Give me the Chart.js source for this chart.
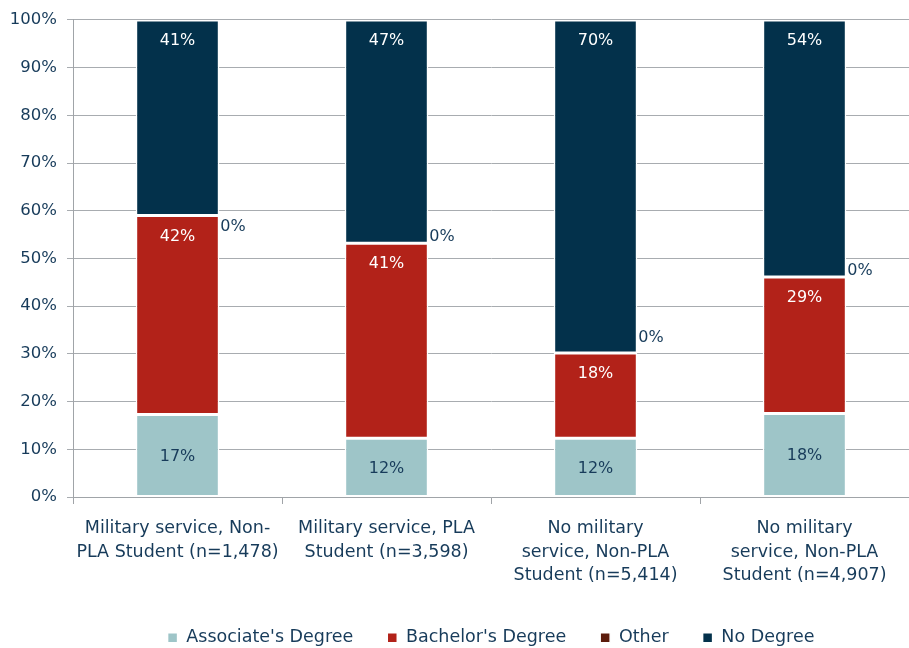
<!DOCTYPE html>
<html>
<head>
<meta charset="utf-8">
<script src="https://cdn.jsdelivr.net/npm/chart.js@4"></script>
<style>
  html, body { margin: 0; padding: 0; background: #fff; }
  #wrap { width: 909px; height: 648px; }
</style>
</head>
<body>
<div id="wrap"><canvas id="degreeChart"></canvas></div>
<script>
const categories = [
    ['Military service, Non-', 'PLA Student (n=1,478)'],
    ['Military service, PLA', 'Student (n=3,598)'],
    ['No military', 'service, Non-PLA', 'Student (n=5,414)'],
    ['No military', 'service, Non-PLA', 'Student (n=4,907)']
];
const associate = [17.3, 12.3, 12.3, 17.5];
const bachelor = [41.7, 40.9, 17.9, 28.6];
const other = [0, 0, 0, 0];
const noDegree = [41.0, 46.8, 69.8, 53.9];
const yTicks = [0, 10, 20, 30, 40, 50, 60, 70, 80, 90, 100];

// vertical nudge of the "Other" 0% labels, as Excel placed them
const otherLabelShift = [11, -6, -15, -6];

const textColor = '#173b5a';
const fontFamily = '"DejaVu Sans", Verdana, sans-serif';

// labels: associate centered, bachelor/no degree at inside end, other outside right
const labelPlugin = {
    id: 'segLabels',
    afterDatasetsDraw(chart) {
        const c = chart.ctx;
        c.save();
        c.font = '16px ' + fontFamily;
        chart.data.datasets.forEach((ds, di) => {
            const meta = chart.getDatasetMeta(di);
            if (meta.hidden) return;
            meta.data.forEach((bar, i) => {
                const txt = Math.round(ds.data[i]) + '%';
                const top = Math.min(bar.y, bar.base);
                const bottom = Math.max(bar.y, bar.base);
                c.fillStyle = ds.labelColor;
                c.textBaseline = 'middle';
                if (ds.labelMode === 'center') {
                    c.textAlign = 'center';
                    c.fillText(txt, bar.x, (top + bottom) / 2 + 1);
                } else if (ds.labelMode === 'end') {
                    c.textAlign = 'center';
                    c.fillText(txt, bar.x, top + 21);
                } else {
                    c.textAlign = 'left';
                    c.fillText(txt, bar.x + bar.width / 2 + 1, top + otherLabelShift[i]);
                }
            });
        });
        c.restore();
    }
};

// keep the legend row low while keeping wide gaps between items
const legendFit = {
    id: 'legendFit',
    beforeInit(chart) {
        const lg = chart.legend;
        if (!lg) return;
        const orig = lg.fit.bind(lg);
        lg.fit = function () {
            orig();
            this.height = 53;
        };
    }
};

const ctx = document.getElementById('degreeChart').getContext('2d');
new Chart(ctx, {
    type: 'bar',
    data: {
        labels: categories,
        datasets: [
            { label: "Associate's Degree", data: associate, backgroundColor: '#9ec5c8', labelMode: 'center', labelColor: textColor },
            { label: "Bachelor's Degree", data: bachelor, backgroundColor: '#b22219', labelMode: 'end', labelColor: '#ffffff' },
            { label: 'Other', data: other, backgroundColor: '#5c1c0c', labelMode: 'outside', labelColor: textColor },
            { label: 'No Degree', data: noDegree, backgroundColor: '#03314b', labelMode: 'end', labelColor: '#ffffff' }
        ].map(d => Object.assign(d, {
            borderColor: '#ffffff',
            borderWidth: 1.5,
            borderSkipped: false,
            categoryPercentage: 1,
            barPercentage: 0.4
        }))
    },
    options: {
        responsive: true,
        maintainAspectRatio: false,
        animation: false,
        layout: { padding: { top: 9, right: 0, left: 0, bottom: 0 } },
        plugins: {
            tooltip: { enabled: false },
            legend: {
                position: 'bottom',
                fullSize: false,
                labels: {
                    boxWidth: 10,
                    boxHeight: 10,
                    padding: 34,
                    color: textColor,
                    font: { family: fontFamily, size: 17.5 }
                }
            }
        },
        scales: {
            x: {
                stacked: true,
                grid: { drawOnChartArea: false, drawTicks: true, tickLength: 7, offset: true, color: '#a0a4a8' },
                border: { color: '#a0a4a8' },
                ticks: {
                    color: textColor,
                    maxRotation: 0,
                    autoSkip: false,
                    padding: 12,
                    font: { family: fontFamily, size: 17.5, lineHeight: 1.37 }
                },
                afterFit(scale) { scale.height = 98; }
            },
            y: {
                stacked: true,
                min: 0,
                max: 100,
                afterBuildTicks(scale) { scale.ticks = yTicks.map(v => ({ value: v })); },
                grid: { color: '#a8acb0', tickLength: 6 },
                border: { color: '#a0a4a8' },
                ticks: {
                    color: textColor,
                    padding: 10,
                    font: { family: fontFamily, size: 16.5 },
                    callback: v => v + '%'
                },
                afterFit(scale) { scale.width = 73; }
            }
        }
    },
    plugins: [labelPlugin, legendFit]
});
</script>
</body>
</html>
